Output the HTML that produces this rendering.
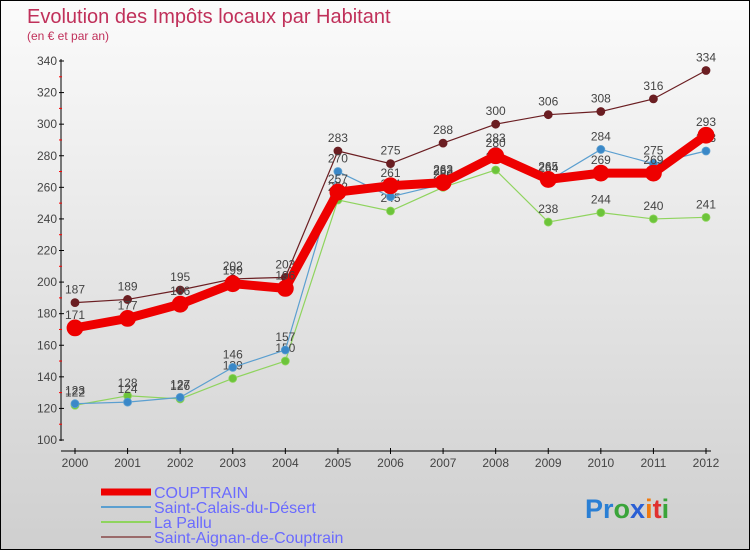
<!DOCTYPE html>
<html><head><meta charset="utf-8"><style>
body{margin:0;width:750px;height:550px;overflow:hidden;font-family:"Liberation Sans",sans-serif}
#wrap{position:relative;width:748px;height:548px;border:1px solid #000;background:linear-gradient(#fbfbfb,#cfcfcf)}
</style></head><body>
<div id="wrap">
<svg id="chart" width="748" height="548" style="position:absolute;left:0;top:0">
<text x="26" y="22" font-size="20" fill="#c0305a">Evolution des Impôts locaux par Habitant</text>
<text x="26" y="39" font-size="12" fill="#c0305a">(en € et par an)</text>
<g id="axes"></g><g id="series"></g><g id="legend"></g>
<text x="584" y="517" font-size="27" font-weight="bold"><tspan fill="#2a7fd4">Pr</tspan><tspan fill="#3aa43a">o</tspan><tspan fill="#2a5fd4">x</tspan><tspan fill="#f07a10">i</tspan><tspan fill="#e03030">t</tspan><tspan fill="#3aa43a">i</tspan></text>
</svg></div>
<script>
const years=[2000,2001,2002,2003,2004,2005,2006,2007,2008,2009,2010,2011,2012];
const couptrain=[171,177,186,199,196,257,261,263,280,265,269,269,293];
const saintCalais=[123,124,127,146,157,270,254,262,283,264,284,275,283];
const laPallu=[122,128,126,139,150,252,245,260,271,238,244,240,241];
const saintAignan=[187,189,195,202,203,283,275,288,300,306,308,316,334];
const yTicks=[100,120,140,160,180,200,220,240,260,280,300,320,340];
const NS="http://www.w3.org/2000/svg";
const x=i=>74+i*(705-74)/12;
const y=v=>439-(v-100)*(439-60)/240;
function mk(t,a,p){const e=document.createElementNS(NS,t);for(const k in a)e.setAttribute(k,a[k]);p.appendChild(e);return e;}
const ax=document.getElementById('axes');
let l=mk('line',{x1:60,y1:58,x2:60,y2:440,stroke:'#000','stroke-width':1},ax);


l=mk('line',{x1:60,y1:450,x2:710,y2:450,stroke:'#000','stroke-width':1},ax);


yTicks.forEach((v,i)=>{
 mk('line',{x1:58,y1:y(v),x2:63,y2:y(v),stroke:'#000'},ax);
 if(i<yTicks.length-1)mk('line',{x1:58,y1:y(v+10),x2:61,y2:y(v+10),stroke:'#f00'},ax);
 const t=mk('text',{x:56,y:y(v)+4,'font-size':12,'text-anchor':'end',fill:'#444'},ax);t.textContent=v;
 
 
});
years.forEach((yr,i)=>{
 mk('line',{x1:x(i),y1:447,x2:x(i),y2:453,stroke:'#000'},ax);
 const t=mk('text',{x:x(i),y:466,'font-size':12,'text-anchor':'middle',fill:'#444'},ax);t.textContent=yr;
 
 
});
const series=[
 {name:'saint-aignan',data:saintAignan,color:'#6b1e22',w:1.2,r:4,label:'Saint-Aignan-de-Couptrain'},
 {name:'la-pallu',data:laPallu,color:'#8fd45e',w:1.2,r:4,fill:'#6cc43a',label:'La Pallu'},
 {name:'saint-calais',data:saintCalais,color:'#5b9fd0',w:1.2,r:4,fill:'#3a88c8',label:'Saint-Calais-du-Désert'},
 {name:'couptrain',data:couptrain,color:'#ee0000',w:9,r:8,label:'COUPTRAIN'}];
const sg=document.getElementById('series');
series.forEach(s=>{
 const g=mk('g',{},sg);
 
 
 const pl=mk('polyline',{points:s.data.map((v,i)=>x(i)+','+y(v)).join(' '),fill:'none',stroke:s.color,'stroke-width':s.w,'stroke-linejoin':'round'},g);
 
 
 s.data.forEach((v,i)=>{
  const c=mk('circle',{cx:x(i),cy:y(v),r:s.r,fill:s.fill||s.color,stroke:s.color,'stroke-width':0.8},g);
  
  
  const t=mk('text',{x:x(i),y:y(v)-9,'font-size':12,'text-anchor':'middle',fill:'#444'},g);t.textContent=v;
  
  
 });
});
const lg=document.getElementById('legend');
[...series].reverse().forEach((s,i)=>{
 const yy=491+i*15;
 const ln=mk('line',{x1:100,y1:yy,x2:150,y2:yy,stroke:s.name==='saint-aignan'?'#9a6a6a':s.color,'stroke-width':s.name==='couptrain'?7:2},lg);
 
 
 const t=mk('text',{x:153,y:yy+6,'font-size':16,fill:'#6a6aff'},lg);t.textContent=s.label;
 
 
});
</script>
</body></html>
